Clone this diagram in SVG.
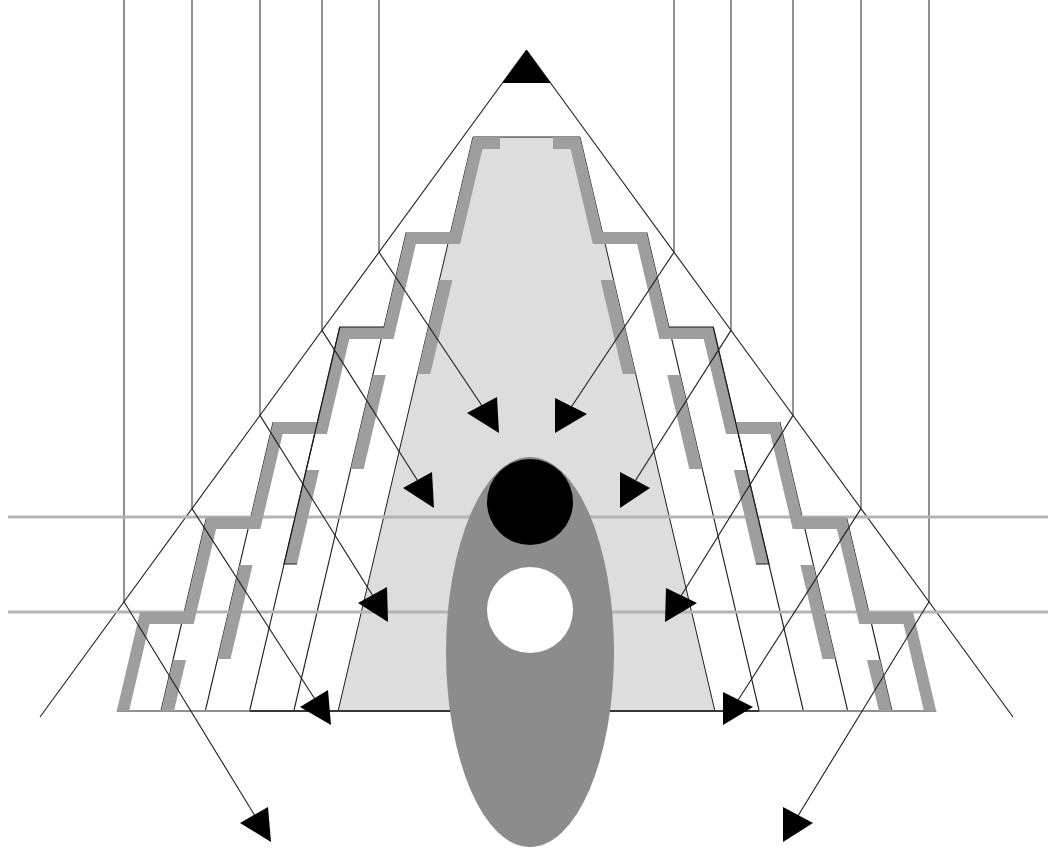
<svg xmlns="http://www.w3.org/2000/svg" width="1048" height="850" viewBox="0 0 1048 850">
<style>
.v{stroke:#4a4a4a;stroke-width:1.2;fill:none}
.vg{stroke:#8f8f8f;stroke-width:2;fill:none}
.thin{stroke:#1e1e1e;stroke-width:1.1;fill:none}
.hz{stroke:#b4b4b4;stroke-width:3;fill:none}
.band{stroke:#9e9e9e;stroke-width:12;fill:none;stroke-linejoin:miter;stroke-miterlimit:10}
.piece{fill:#9e9e9e;stroke:none}
.hl{stroke:#1a1a1a;stroke-width:1.2;fill:none}
.ah{fill:#000;stroke:none}
.conn{stroke:#1e1e1e;stroke-width:1.1;fill:none}
</style>
<defs>
<clipPath id="clipBase"><rect x="0" y="0" width="1048" height="711"/></clipPath>
</defs>
<rect x="0" y="0" width="1048" height="850" fill="#fff"/>
<g id="verticals">
<line class="vg" x1="124" y1="0" x2="124" y2="601.8"/>
<line class="v" x1="192" y1="0" x2="192" y2="508.6"/>
<line class="v" x1="260" y1="0" x2="260" y2="415.4"/>
<line class="v" x1="322" y1="0" x2="322" y2="330.4"/>
<line class="v" x1="379" y1="0" x2="379" y2="252.2"/>
<line class="v" x1="674" y1="0" x2="674" y2="252.2"/>
<line class="v" x1="731" y1="0" x2="731" y2="330.4"/>
<line class="v" x1="793" y1="0" x2="793" y2="415.4"/>
<line class="v" x1="861" y1="0" x2="861" y2="508.6"/>
<line class="vg" x1="929" y1="0" x2="929" y2="601.8"/>
</g>
<g id="diagonals">
<line class="thin" x1="526.5" y1="50" x2="40" y2="717"/>
<line class="thin" x1="526.5" y1="50" x2="1013" y2="717"/>
</g>
<g id="core">
<polygon points="473,137 580,137 714.9,711 338.1,711" fill="#dddddd" stroke="#1e1e1e" stroke-width="1"/>
</g>
<g id="fan-lines">
<line class="thin" x1="406.4" y1="232" x2="293.8" y2="711"/>
<line class="thin" x1="339.8" y1="327" x2="249.6" y2="711"/>
<line class="thin" x1="273.2" y1="422" x2="205.3" y2="711"/>
<line class="thin" x1="206.6" y1="517" x2="161" y2="711"/>
<line class="thin" x1="646.6" y1="232" x2="759.2" y2="711"/>
<line class="thin" x1="713.2" y1="327" x2="803.4" y2="711"/>
<line class="thin" x1="779.8" y1="422" x2="847.7" y2="711"/>
<line class="thin" x1="846.4" y1="517" x2="892" y2="711"/>
</g>
<g id="horizontals">
<line class="hz" x1="8" y1="517" x2="1048" y2="517"/>
<line class="hz" x1="8" y1="612" x2="1048" y2="612"/>
</g>
<g id="base">
<line x1="116.7" y1="711" x2="936.3" y2="711" stroke="#909090" stroke-width="1.8"/>
<line x1="249.6" y1="711" x2="759.2" y2="711" stroke="#1a1a1a" stroke-width="1.3"/>
</g>
<g id="stairs" clip-path="url(#clipBase)">
<polyline class="band" points="500,143 477.75,143 455.4,238 411.15,238 388.8,333 344.55,333 322.2,428 277.95,428 255.6,523 211.35,523 189,618 144.75,618 120.8,720"/>
<polyline class="band" points="553,143 575.25,143 597.6,238 641.85,238 664.2,333 708.45,333 730.8,428 775.05,428 797.4,523 841.65,523 864,618 908.25,618 932.2,720"/>
<polygon class="piece" points="439.4,280 452.4,280 430.3,374 417.3,374"/>
<polygon class="piece" points="372.8,375 385.8,375 363.7,469 350.7,469"/>
<polygon class="piece" points="306.2,470 319.2,470 297.1,564 284.1,564"/>
<polygon class="piece" points="239.6,565 252.6,565 230.5,659 217.5,659"/>
<polygon class="piece" points="173,660 186,660 174,711 161,711"/>
<polygon class="piece" points="613.6,280 600.6,280 622.7,374 635.7,374"/>
<polygon class="piece" points="680.2,375 667.2,375 689.3,469 702.3,469"/>
<polygon class="piece" points="746.8,470 733.8,470 755.9,564 768.9,564"/>
<polygon class="piece" points="813.4,565 800.4,565 822.5,659 835.5,659"/>
<polygon class="piece" points="880,660 867,660 879,711 892,711"/>
</g>
<g id="highlight">
<polyline class="hl" points="384.1,327 339.8,327 284.1,564 297,564"/>
<polyline class="hl" points="668.9,327 713.2,327 768.9,564 756,564"/>
</g>
<g id="ellipse">
<ellipse cx="530" cy="652" rx="84" ry="195" fill="#8c8c8c"/>
</g>
<g id="black-circle">
<circle cx="530" cy="502" r="43" fill="#000"/>
</g>
<g id="white-circle">
<circle cx="530" cy="610" r="43" fill="#fff"/>
</g>
<g id="connectors">
<line class="conn" x1="379" y1="252.2" x2="487.7" y2="414.3"/>
<line class="conn" x1="322" y1="330.4" x2="423" y2="489"/>
<line class="conn" x1="260" y1="415.4" x2="378" y2="604"/>
<line class="conn" x1="192" y1="508.6" x2="320" y2="707"/>
<line class="conn" x1="124" y1="601.8" x2="260" y2="824"/>
<line class="conn" x1="674" y1="252.2" x2="566" y2="415"/>
<line class="conn" x1="731" y1="330.4" x2="630" y2="489"/>
<line class="conn" x1="793" y1="415.4" x2="676" y2="604"/>
<line class="conn" x1="861" y1="508.6" x2="733" y2="708"/>
<line class="conn" x1="929" y1="601.8" x2="793" y2="824"/>
</g>
<g id="arrowheads">
<polygon class="ah" points="467,413 497,397 499,433"/>
<polygon class="ah" points="403,488 432,472 434,508"/>
<polygon class="ah" points="358,603 387,587 388,622"/>
<polygon class="ah" points="300,707 328,690 331,725"/>
<polygon class="ah" points="240,823 268,807 271,842"/>
<polygon class="ah" points="555,398 587,414 555,433"/>
<polygon class="ah" points="620,472 650,488 620,508"/>
<polygon class="ah" points="666,588 697,603 665,622"/>
<polygon class="ah" points="723,692 753,707 723,725"/>
<polygon class="ah" points="783,807 813,823 783,842"/>
</g>
<g id="apex">
<polygon points="526.5,50 502.4,83 550.6,83" fill="#000"/>
</g>
</svg>
